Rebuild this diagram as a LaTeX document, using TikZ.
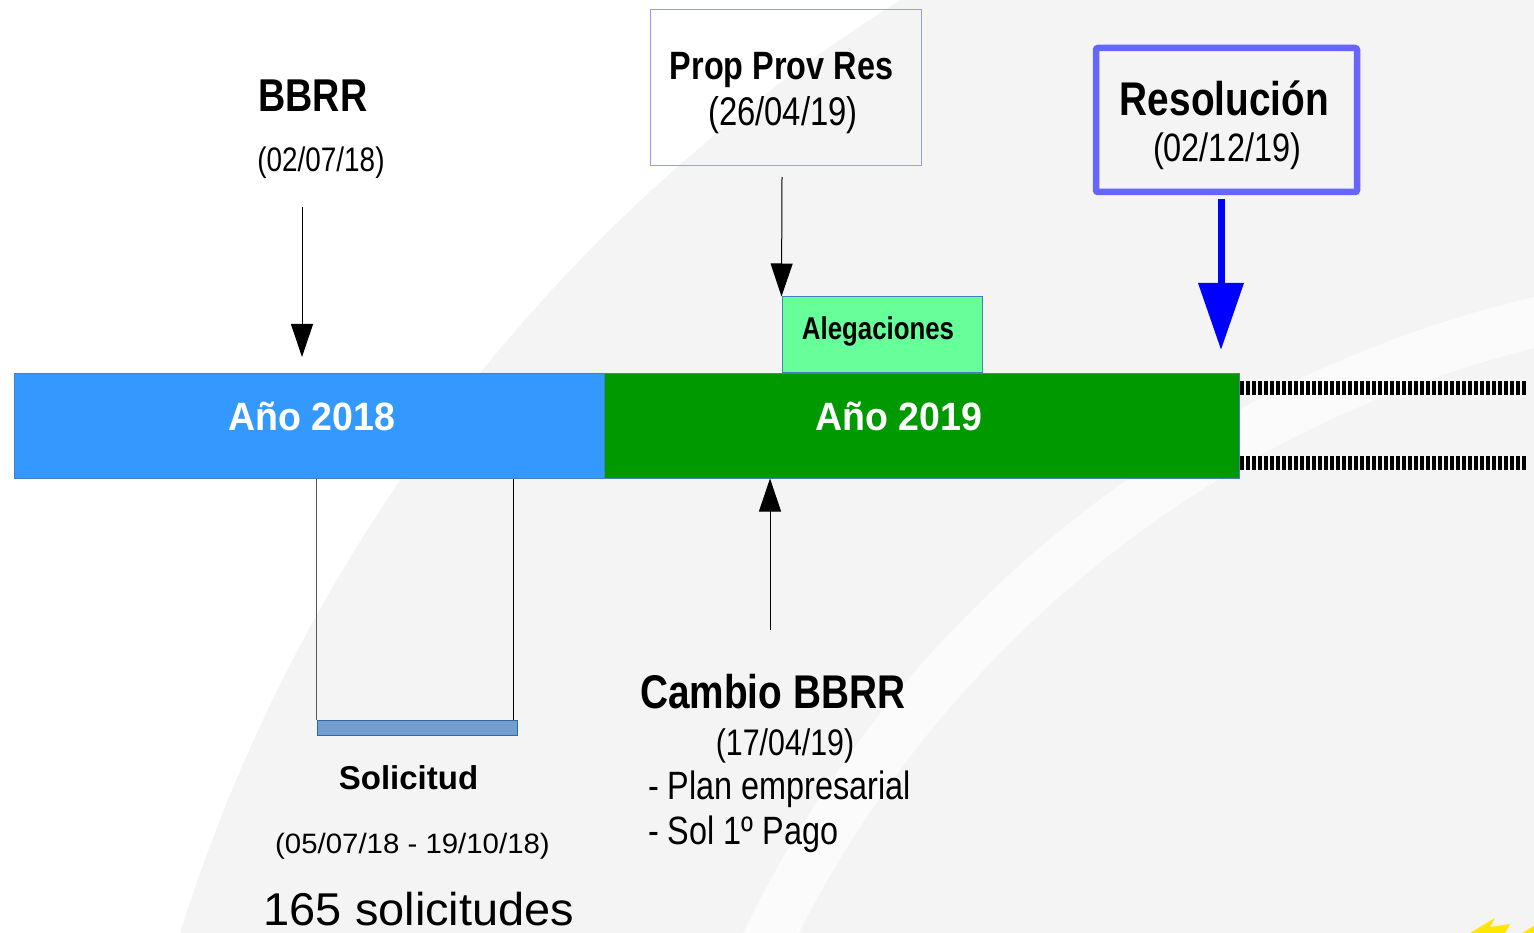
\documentclass[tikz,border=0pt]{standalone}
\usepackage{fontspec}
\setmainfont{Liberation Sans}
\usetikzlibrary{arrows.meta}
\definecolor{bggray}{HTML}{F4F4F4}
\definecolor{bglight}{HTML}{FBFBFB}
\definecolor{barblue}{HTML}{4A7EBB}
\definecolor{fill2018}{HTML}{3399FF}
\definecolor{fill2019}{HTML}{009900}
\definecolor{alegreen}{HTML}{66FF99}
\definecolor{propborder}{HTML}{9999FF}
\definecolor{resborder}{HTML}{6666FF}
\definecolor{resblue}{HTML}{0000FF}
\definecolor{solfill}{HTML}{729FCF}
\definecolor{solborder}{HTML}{3465A4}
\definecolor{staryellow}{HTML}{FFE600}
\newcommand\myfz[2]{\fontsize{#1}{#1}\selectfont\addfontfeature{FakeStretch=#2}}
\begin{document}
\begin{tikzpicture}[x=1pt,y=-1pt,
  txt/.style={inner sep=0pt,anchor=base},
  txtw/.style={inner sep=0pt,anchor=base west},
  box/.style={inner sep=0pt,line width=1pt},
  arr/.style={-{Triangle[width=22pt,length=33pt]},line width=1pt}]
\useasboundingbox (0,0) rectangle (1534,933);
% background swirl
\begin{scope}
\clip (0,0) rectangle (1534,933);
\fill[white] (0,0) rectangle (1534,933);
\fill[bggray] (1803,1441) circle[radius=1700pt];
\draw[bglight,line width=50pt] (1803,1441) circle[radius=1150pt];
\fill[staryellow] (1470,933) -- (1495,918) -- (1490,927) -- (1510,924) -- (1505,933) -- cycle;
\fill[staryellow] (1522,933) -- (1534,926) -- (1534,933) -- cycle;
\end{scope}
% timeline bar
\node[box,draw=barblue,fill=fill2018,minimum width=590pt,minimum height=105pt] (y2018) at (309,425.5) {};
\node[box,draw=barblue,fill=fill2019,minimum width=635pt,minimum height=105pt] (y2019) at (921.5,425.5) {};
\node[txt,text=white,font={\bfseries\myfz{39.5}{0.95}}] (t2018) at (312,430) {Año 2018};
\node[txt,text=white,font={\bfseries\myfz{39.5}{0.95}}] (t2019) at (899,430) {Año 2019};
% dashed continuation
\coordinate (d1s) at (1240,388); \coordinate (d1e) at (1527,388);
\coordinate (d2s) at (1240,463); \coordinate (d2e) at (1527,463);
\draw[line width=14pt,dash pattern=on 3.5pt off 2.5pt] (d1s) -- (d1e);
\draw[line width=14pt,dash pattern=on 3.5pt off 2.5pt] (d2s) -- (d2e);
% Alegaciones
\node[box,draw=barblue,fill=alegreen,minimum width=200pt,minimum height=75pt] (aleg) at (882,334.5) {};
\node[txt,font={\bfseries\myfz{31.5}{0.82}}] (talegl) at (878,339) {Alegaciones};
% BBRR
\node[txt,font={\bfseries\myfz{46}{0.82}}] (bbrr) at (313,112) {BBRR};
\node[txt,font={\myfz{34}{0.82}}] (bbrrd) at (321,172) {(02/07/18)};
\coordinate (bbrrS) at (302,207); \coordinate (bbrrE) at (302,357);
\draw[arr] (bbrrS) -- (bbrrE);
% Prop Prov Res
\node[box,draw=propborder,minimum width=271pt,minimum height=156pt] (prop) at (785.5,88) {};
\node[txt,font={\bfseries\myfz{39.5}{0.82}}] (propt) at (781.5,80) {Prop Prov Res};
\node[txt,font={\myfz{40}{0.82}}] (propd) at (783,126) {(26/04/19)};
\coordinate (propS) at (782,177);
\draw[arr] (propS) -- (aleg.north west);
% Resolucion
\node[inner sep=0pt,draw=resborder,line width=6.5pt,rounded corners=2pt,minimum width=261pt,minimum height=144pt] (res) at (1226.5,120) {};
\node[txt,font={\bfseries\myfz{47.3}{0.82}}] (rest) at (1224.5,116) {Resolución};
\node[txt,font={\myfz{39.6}{0.82}}] (resd) at (1227,162) {(02/12/19)};
\coordinate (resS) at (1221,199); \coordinate (resE) at (1221,350);
\draw[resblue,line width=7pt,-{Triangle[width=44pt,length=67pt]}] (resS) -- (resE);
% Cambio BBRR
\coordinate (cambS) at (770,630);
\draw[arr] (cambS) -- (cambS |- y2019.south);
\node[txtw,font={\bfseries\myfz{47.3}{0.82}}] (camb) at (640,708) {Cambio BBRR};
\node[txt,font={\myfz{37}{0.82}}] (cambd) at (785,755) {(17/04/19)};
\node[txtw,font={\myfz{39.5}{0.82}}] (plan) at (648,799) {- Plan empresarial};
\node[txtw,font={\myfz{39.5}{0.82}}] (sol1) at (648,844) {- Sol 1º Pago};
% Solicitud
\node[box,draw=solborder,fill=solfill,minimum width=200pt,minimum height=15.5pt] (solbar) at (417,727.8) {};
\draw[gray!70!black,line width=1.3pt] (solbar.north west) -- (solbar.north west |- y2018.south);
\coordinate (solR) at (513,720);
\draw[line width=1pt] (solR) -- (solR |- y2018.south);
\node[txt,font={\bfseries\myfz{33}{1.0}}] (solt) at (408.5,789) {Solicitud};
\node[txt,font={\myfz{28}{1.05}}] (sold) at (412.5,853) {(05/07/18 - 19/10/18)};
\node[txt,font={\myfz{46}{1.02}}] (soln) at (419,925) {165 solicitudes};
\end{tikzpicture}
\end{document}
